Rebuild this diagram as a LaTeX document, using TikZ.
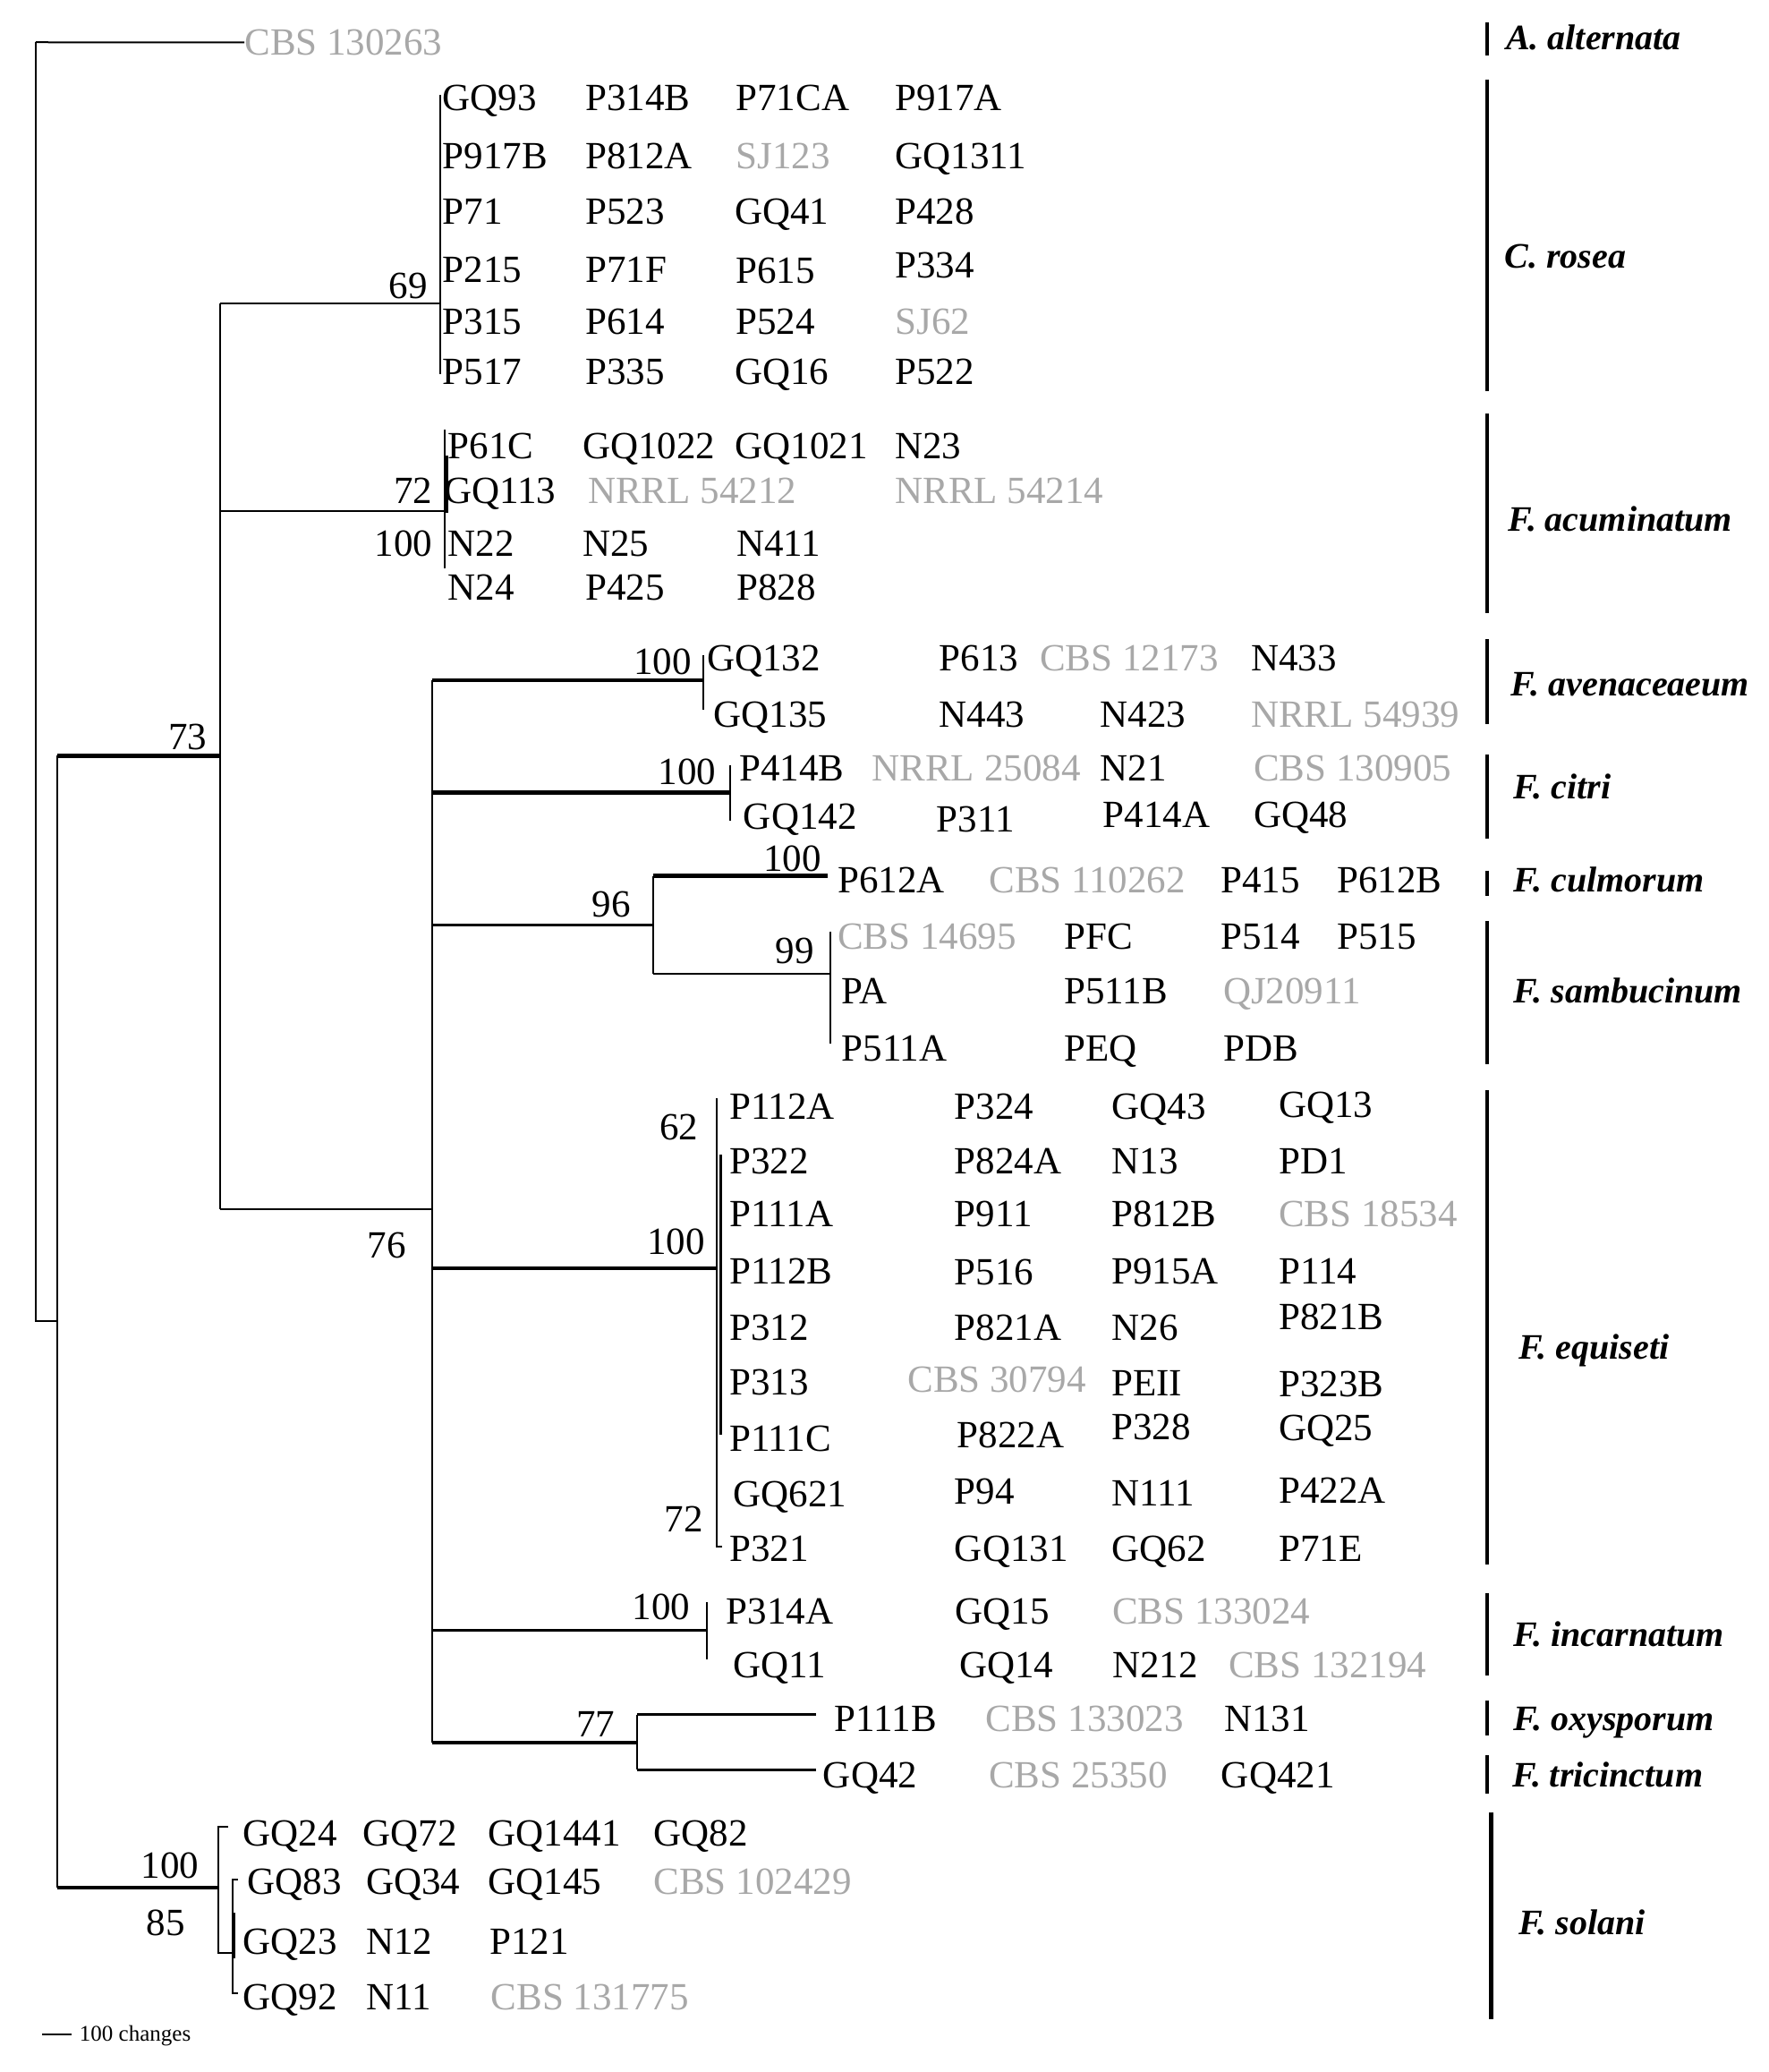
\documentclass[tikz,border=0pt]{standalone}
\usepackage{fontspec}
\setmainfont{Liberation Serif}
\definecolor{lg}{RGB}{168,168,168}
\newcommand\strainfont{\fontsize{21.5}{24}\selectfont}
\newcommand\spfont{\fontsize{20}{22}\selectfont\bfseries\itshape}
\newcommand\smallfont{\fontsize{12.5}{14}\selectfont}
\newcommand\tp[4][s]{\node[#1] (#2) at (#3) {#4};}
\newcommand\sv[3]{\node[bs] at (#1,#2) {#3};}
\tikzset{
  s/.style={font=\strainfont, anchor=base west, inner sep=0pt, yshift=-7.1pt},
  g/.style={s, text=lg},
  bs/.style={font=\strainfont, anchor=base east, inner sep=0pt, yshift=-7.1pt},
  sp/.style={font=\spfont, anchor=base west, inner sep=0pt, yshift=-6.6pt},
  tn/.style={line width=1pt},
  md/.style={line width=1.5pt},
  tk/.style={line width=2.2pt},
  bar/.style={line width=2.2pt, line cap=butt}
}
\begin{document}
\begin{tikzpicture}[x=0.738pt, y=-0.738pt]
\useasboundingbox (0,0) rectangle (1339.4,1568.4);

% ---------- internal node coordinates ----------
\coordinate (root) at (27,1000);
\coordinate (rootT) at (27,32);
\coordinate (nA) at (43.5,1000);
\coordinate (nAt) at (43.5,572);
\coordinate (nAb) at (43.5,1429);
\coordinate (n73t) at (167,230);
\coordinate (n73m) at (167,572);
\coordinate (n73a) at (167,387);
\coordinate (n73b) at (167,915);
\coordinate (ros) at (333,230);
\coordinate (acu) at (337,387);
\coordinate (n76) at (327,915);
\coordinate (n76t) at (327,515);
\coordinate (n76b) at (327,1319);
\coordinate (ave) at (532.5,515);
\coordinate (cit) at (553,600);
\coordinate (n96) at (494.6,700);
\coordinate (cul) at (627,663);
\coordinate (sam) at (628.7,737);
\coordinate (equ) at (543,960);
\coordinate (inc) at (535,1234);
\coordinate (n77) at (482.6,1319);
\coordinate (oxy) at (618,1298);
\coordinate (tri) at (618,1339.4);
\coordinate (sol) at (165.6,1429);
\coordinate (sbar1) at (32,1540);
\coordinate (sbar2) at (54,1540);

% ---------- tips ----------
\tp[g]{CBS130263}{185,32}{CBS 130263}

% C. rosea
\tp{GQ93}{335,74}{GQ93}
\tp{P314B}{443,74}{P314B}
\tp{P71CA}{557,74}{P71CA}
\tp{P917A}{677.5,74}{P917A}
\tp{P917B}{335,118}{P917B}
\tp{P812A}{443,118}{P812A}
\tp[g]{SJ123}{557,118}{SJ123}
\tp{GQ1311}{677.5,118}{GQ1311}
\tp{P71}{335,160.3}{P71}
\tp{P523}{443,160.3}{P523}
\tp{GQ41}{556,160.3}{GQ41}
\tp{P428}{677.5,160.3}{P428}
\tp{P215}{335,204}{P215}
\tp{P71F}{443,204}{P71F}
\tp{P615}{557,205}{P615}
\tp{P334}{677.5,201}{P334}
\tp{P315}{335,243.5}{P315}
\tp{P614}{443,243.5}{P614}
\tp{P524}{557,243.5}{P524}
\tp[g]{SJ62}{677.5,243.5}{SJ62}
\tp{P517}{335,281.3}{P517}
\tp{P335}{443,281.3}{P335}
\tp{GQ16}{556,281.3}{GQ16}
\tp{P522}{677.5,281.3}{P522}

% F. acuminatum
\tp{P61C}{339,337.4}{P61C}
\tp{GQ1022}{441,337.4}{GQ1022}
\tp{GQ1021}{556.5,337.4}{GQ1021}
\tp{N23}{677.5,337.4}{N23}
\tp{GQ113}{336,371.4}{GQ113}
\tp[g]{NRRL54212}{445,371.4}{NRRL 54212}
\tp[g]{NRRL54214}{677.5,371.4}{NRRL 54214}
\tp{N22}{339,411.3}{N22}
\tp{N25}{441,411.3}{N25}
\tp{N411}{557.4,411.3}{N411}
\tp{N24}{339,444.5}{N24}
\tp{P425}{443,444.5}{P425}
\tp{P828}{557.4,444.5}{P828}

% F. avenaceum
\tp{GQ132}{535,498}{GQ132}
\tp{P613}{711,498}{P613}
\tp[g]{CBS12173}{787,498}{CBS 12173}
\tp{N433}{947,498}{N433}
\tp{GQ135}{540,540.6}{GQ135}
\tp{N443}{711,540.6}{N443}
\tp{N423}{833,540.6}{N423}
\tp[g]{NRRL54939}{947,540.6}{NRRL 54939}

% F. citri
\tp{P414B}{559.6,581.7}{P414B}
\tp[g]{NRRL25084}{660,581.7}{NRRL 25084}
\tp{N21}{833,581.7}{N21}
\tp[g]{CBS130905}{949,581.7}{CBS 130905}
\tp{GQ142}{562.7,618}{GQ142}
\tp{P311}{709,620}{P311}
\tp{P414A}{835,617}{P414A}
\tp{GQ48}{949,617}{GQ48}

% F. culmorum
\tp{P612A}{634,666}{P612A}
\tp[g]{CBS110262}{748.6,666}{CBS 110262}
\tp{P415}{924,666}{P415}
\tp{P612B}{1012,666}{P612B}

% F. sambucinum
\tp[g]{CBS14695}{634,708.7}{CBS 14695}
\tp{PFC}{805.6,708.7}{PFC}
\tp{P514}{924,708.7}{P514}
\tp{P515}{1012,708.7}{P515}
\tp{PA}{637,750}{PA}
\tp{P511B}{805.6,750}{P511B}
\tp[g]{QJ20911}{926,750}{QJ20911}
\tp{P511A}{637,793.5}{P511A}
\tp{PEQ}{805.6,793.5}{PEQ}
\tp{PDB}{926,793.5}{PDB}

% F. equiseti
\tp{P112A}{552,837.7}{P112A}
\tp{P324}{722.6,837.7}{P324}
\tp{GQ43}{841.5,837.7}{GQ43}
\tp{GQ13}{968,836}{GQ13}
\tp{P322}{552,879}{P322}
\tp{P824A}{722.6,879}{P824A}
\tp{N13}{841.5,879}{N13}
\tp{PD1}{968,879}{PD1}
\tp{P111A}{552,919}{P111A}
\tp{P911}{722.6,919}{P911}
\tp{P812B}{841.5,919}{P812B}
\tp[g]{CBS18534}{968,919}{CBS 18534}
\tp{P112B}{552,962}{P112B}
\tp{P516}{722.6,963}{P516}
\tp{P915A}{841.5,962}{P915A}
\tp{P114}{968,962}{P114}
\tp{P312}{552,1005}{P312}
\tp{P821A}{722.6,1005}{P821A}
\tp{N26}{841.5,1005}{N26}
\tp{P821B}{968,997}{P821B}
\tp{P313}{552,1046}{P313}
\tp[g]{CBS30794}{687,1044}{CBS 30794}
\tp{PEII}{841.5,1047}{PEII}
\tp{P323B}{968,1047.6}{P323B}
\tp{P111C}{552,1089}{P111C}
\tp{P822A}{724.6,1086}{P822A}
\tp{P328}{841.5,1080}{P328}
\tp{GQ25}{968,1081}{GQ25}
\tp{GQ621}{555,1130.6}{GQ621}
\tp{P94}{722.6,1129}{P94}
\tp{N111}{841.5,1130}{N111}
\tp{P422A}{968,1128}{P422A}
\tp{P321}{552,1172}{P321}
\tp{GQ131}{722.6,1172}{GQ131}
\tp{GQ62}{841.5,1172}{GQ62}
\tp{P71E}{968,1172}{P71E}

% F. incarnatum
\tp{P314A}{549.6,1219.8}{P314A}
\tp{GQ15}{723,1219.8}{GQ15}
\tp[g]{CBS133024}{842,1219.8}{CBS 133024}
\tp{GQ11}{555,1260}{GQ11}
\tp{GQ14}{726,1260}{GQ14}
\tp{N212}{842,1260}{N212}
\tp[g]{CBS132194}{930,1260}{CBS 132194}

% F. oxysporum / F. tricinctum
\tp{P111B}{631.7,1300.8}{P111B}
\tp[g]{CBS133023}{746,1300.8}{CBS 133023}
\tp{N131}{926.6,1300.8}{N131}
\tp{GQ42}{623,1343.5}{GQ42}
\tp[g]{CBS25350}{748.4,1343.5}{CBS 25350}
\tp{GQ421}{924.5,1343.5}{GQ421}

% F. solani
\tp{GQ24}{183.7,1387.5}{GQ24}
\tp{GQ72}{274.4,1387.5}{GQ72}
\tp{GQ1441}{369.4,1387.5}{GQ1441}
\tp{GQ82}{494.7,1387.5}{GQ82}
\tp{GQ83}{187,1424.5}{GQ83}
\tp{GQ34}{277,1424.5}{GQ34}
\tp{GQ145}{369.4,1424.5}{GQ145}
\tp[g]{CBS102429}{494.7,1424.5}{CBS 102429}
\tp{GQ23}{183.7,1469.6}{GQ23}
\tp{N12}{277,1469.6}{N12}
\tp{P121}{370.5,1469.6}{P121}
\tp{GQ92}{183.7,1512}{GQ92}
\tp{N11}{277,1512}{N11}
\tp[g]{CBS131775}{371.6,1512}{CBS 131775}

% ---------- support values ----------
\sv{324}{216}{69}
\sv{327.5}{371.4}{72}
\sv{327.5}{411.3}{100}
\sv{157}{558}{73}
\sv{307.7}{942.6}{76}
\sv{523.7}{500.7}{100}
\sv{542.3}{584}{100}
\sv{622}{649.7}{100}
\sv{477.6}{684.3}{96}
\sv{616.5}{719.5}{99}
\sv{529}{853}{62}
\sv{534}{940}{100}
\sv{532.5}{1150}{72}
\sv{522.8}{1216}{100}
\sv{465.8}{1305}{77}
\sv{151}{1411.8}{100}
\sv{140.5}{1455.7}{85}

% ---------- branches ----------
\draw[tn] (rootT) -- (root) -- (nA);
\draw[tn] (rootT) -- (CBS130263.west);
\draw[tn] (nAt) -- (nAb);
\draw[tk] (nAt) -- (n73m);
\draw[tk] (nAb) -- (sol);
\draw[tn] (n73t) -- (n73b);
\draw[tn] (n73t) -- (ros);
\draw[tn] (333,72) -- (333,283);
\draw[tn] (n73a) -- (acu);
\draw[tn] (337,325) -- (337,430);
\draw[md] (338.5,345) -- (338.5,388);
\draw[tn] (n73b) -- (n76);
\draw[tn] (n76t) -- (n76b);
\draw[tk] (n76t) -- (ave);
\draw[tn] (532.5,496) -- (532.5,537);
\draw[tk] (327,600) -- (cit);
\draw[tn] (553,579) -- (553,621);
\draw[md] (327,700) -- (n96);
\draw[tn] (494.6,663) -- (494.6,737);
\draw[tk] (494.6,663) -- (cul);
\draw[tn] (494.6,737) -- (sam);
\draw[tn] (628.7,705) -- (628.7,790);
\draw[tk] (327,960) -- (equ);
\draw[tn] (543,831) -- (543,1171) -- (547,1171);
\draw[md] (546,874) -- (546,1086);
\draw[md] (327,1234) -- (inc);
\draw[tn] (535,1213) -- (535,1256);
\draw[tk] (n76b) -- (n77);
\draw[tn] (482.6,1298) -- (482.6,1339.4);
\draw[md] (482.6,1298) -- (oxy);
\draw[md] (482.6,1339.4) -- (tri);
\draw[tn] (172.6,1383) -- (165.6,1383) -- (165.6,1478) -- (176,1478);
\draw[tn] (180,1423) -- (176,1423) -- (176,1509) -- (180,1509);
\draw[md] (177,1448) -- (177,1482);

% ---------- scale bar ----------
\draw[tn] (sbar1) -- (sbar2);
\node[font=\smallfont, anchor=base west, inner sep=0pt, yshift=-3.5pt] (scale) at (60,1540) {100 changes};

% ---------- species bars ----------
\draw[bar] (1126,17) -- (1126,42);
\draw[bar] (1126,60) -- (1126,296);
\draw[bar] (1126,313) -- (1126,464);
\draw[bar] (1126,484) -- (1126,548);
\draw[bar] (1126,571) -- (1126,635);
\draw[bar] (1126,659) -- (1126,678);
\draw[bar] (1126,697) -- (1126,805.5);
\draw[bar] (1126,825) -- (1126,1184);
\draw[bar] (1126,1206) -- (1126,1268);
\draw[bar] (1126,1287) -- (1126,1313.5);
\draw[bar] (1126,1328.6) -- (1126,1357.4);
\draw[bar] (1129,1372) -- (1129,1528.6);

\node[sp] (sAa) at (1140,28.7) {A. alternata};
\node[sp] (sCr) at (1139,194) {C. rosea};
\node[sp] (sFac) at (1141.6,393) {F. acuminatum};
\node[sp] (sFav) at (1144,517.6) {F. avenaceaeum};
\node[sp] (sFci) at (1146,596) {F. citri};
\node[sp] (sFcu) at (1146,666) {F. culmorum};
\node[sp] (sFsa) at (1146,750) {F. sambucinum};
\node[sp] (sFeq) at (1149.5,1020) {F. equiseti};
\node[sp] (sFin) at (1146,1237) {F. incarnatum};
\node[sp] (sFox) at (1146,1300.8) {F. oxysporum};
\node[sp] (sFtr) at (1145,1343.5) {F. tricinctum};
\node[sp] (sFso) at (1149.5,1455.7) {F. solani};
\end{tikzpicture}
\end{document}
